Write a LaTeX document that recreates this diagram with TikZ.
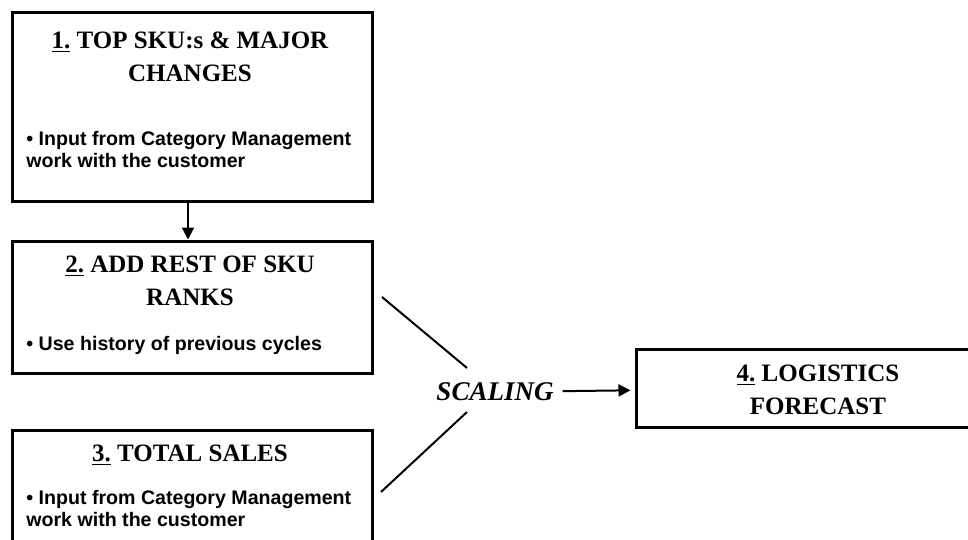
\documentclass[tikz,border=0pt]{standalone}
\usepackage{fontspec}
\setmainfont{Liberation Serif}
\newfontfamily\notefont{Liberation Sans}
\usetikzlibrary{arrows.meta}

\tikzset{
  stagebox/.style={draw, line width=1.5pt, rectangle, inner sep=0pt},
  headtext/.style={font=\bfseries\fontsize{12.5}{16.5}\selectfont, align=center, inner sep=0pt},
  notetext/.style={font=\notefont\bfseries\fontsize{9.8}{11}\selectfont, align=left, anchor=west, inner sep=0pt},
  flow/.style={line width=1pt, -{Triangle[length=6pt,width=6pt]}}
}

\begin{document}
\begin{tikzpicture}[x=0.5pt,y=-0.5pt]
                \useasboundingbox (0,0) rectangle (968,540);
                \clip (0,0) rectangle (968,540);

                % Boxes
                \node[stagebox, minimum width=180pt, minimum height=94pt] (box1) at (192,107) {};
                \node[stagebox, minimum width=180pt, minimum height=66pt] (box2) at (192,307) {};
                \node[stagebox, minimum width=180pt, minimum height=75pt] (box3) at (192,505) {};
                \node[stagebox, minimum width=182pt, minimum height=39pt] (box4) at (818,388) {};

                % Titles
                \node[headtext] (head1) at (190,57) {\underline{1.} TOP SKU:s \& MAJOR\\CHANGES};
                \node[headtext] (head2) at (190,281) {\underline{2.} ADD REST OF SKU\\RANKS};
                \node[headtext] (head3) at (190,455) {\underline{3.} TOTAL SALES};
                \node[headtext] (head4) at (818,390) {\underline{4.} LOGISTICS\\FORECAST};

                % Notes
                \node[notetext] (note1) at (26,149) {• Input from Category Management\\work with the customer};
                \node[notetext] (note2) at (26,345) {• Use history of previous cycles};
                \node[notetext] (note3) at (26,508) {• Input from Category Management\\work with the customer};

                % Scaling
                \node[font=\bfseries\itshape\fontsize{13.5}{15}\selectfont] (scaling) at (495,392) {SCALING};
                \coordinate (in2a) at (382,297);
                \coordinate (in2b) at (467,368);
                \coordinate (in3a) at (467,412);
                \coordinate (in3b) at (381,492);
                \draw[line width=1pt] (in2a) -- (in2b);
                \draw[line width=1pt] (in3a) -- (in3b);

                % Arrows
                \draw[flow] (box1.south -| 188,0) -- (box2.north -| 188,0);
                \draw[flow, shorten <=1pt, shorten >=2pt] (scaling) -- (box4);
            \end{tikzpicture}
\end{document}
